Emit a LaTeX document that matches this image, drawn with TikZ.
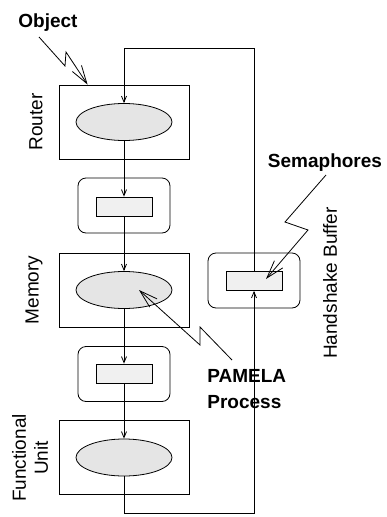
\documentclass[tikz,border=0pt]{standalone}
\usepackage{fontspec}
\setmainfont{Liberation Sans}
\usetikzlibrary{shapes.geometric,arrows.meta}
\begin{document}
\begin{tikzpicture}[x=1pt,y=-1pt,line width=0.8pt,
  font=\fontsize{19}{22}\selectfont,
  unitbox/.style={draw,minimum width=130pt,minimum height=74pt,inner sep=0pt},
  proc/.style={ellipse,draw,fill=black!10,minimum width=96pt,minimum height=37pt,inner sep=0pt},
  bufbox/.style={draw,rounded corners=8pt,minimum width=92pt,minimum height=55pt,inner sep=0pt},
  slot/.style={draw,fill=black!6,minimum width=56pt,minimum height=19pt,inner sep=0pt},
  flow/.style={-{Straight Barb[length=6pt,width=5pt]}},
  bolt/.style={-{Straight Barb[length=18pt,width=11pt]}},
  lbl/.style={inner sep=0pt},
  hdr/.style={inner sep=0pt,font=\fontsize{19}{26}\selectfont\bfseries}]
  \useasboundingbox (0,0) rectangle (386,517);
  % units with their processes
  \node[unitbox] (rt) at (124,122) {};
  \node[proc] (rtE) at (124,122) {};
  \node[unitbox] (mem) at (124,290) {};
  \node[proc] (memE) at (124,290) {};
  \node[unitbox] (fu) at (124,457) {};
  \node[proc] (fuE) at (124,457.5) {};
  % buffers
  \node[bufbox] (b1) at (124,205.5) {};
  \node[slot] (b1R) at (124,206.5) {};
  \node[bufbox] (b2) at (124,374) {};
  \node[slot] (b2R) at (124,373.5) {};
  \node[bufbox] (hs) at (254,280.5) {};
  \node[slot] (hsR) at (254,281) {};
  \coordinate (top) at (0,48);
  \coordinate (bot) at (0,513);
  % data flow
  \draw[flow] (rtE.south) -- (b1R.north);
  \draw[flow] (b1R.south) -- (memE.north);
  \draw[flow] (memE.south) -- (b2R.north);
  \draw[flow] (b2R.south) -- (fuE.north);
  \draw[flow] (fuE.south) -- (fuE.south |- bot) -- (hsR.south |- bot) -- (hsR.south);
  \draw[flow] (hsR.north) -- (hsR.north |- top) -- (rtE.north |- top) -- (rtE.north);
  % labels
  \node[lbl,rotate=90] at (36,122) {Router};
  \node[lbl,rotate=90] at (34,290) {Memory};
  \node[lbl,rotate=90,align=center] at (30,458) {Functional\\Unit};
  \node[lbl,rotate=90] at (330,283) {Handshake Buffer};
  \node[hdr,anchor=base] (obj) at (48,27) {Object};
  \node[hdr,anchor=base] (sema) at (325,167) {Semaphores};
  \node[hdr,align=left,anchor=north west] (pam) at (207,369) {PAMELA\\Process};
  \draw[bolt] ([shift={(-9,10)}]obj.base) -- ++(26,29) -- ++(1,-14) -- ([shift={(29,0)}]rt.north west);
  \draw[bolt] ([shift={(1,8)}]sema.base) -- ++(-41,47) -- ++(23,8) -- ([shift={(12,-2)}]hsR.center);
  \draw[bolt] ([shift={(25,-9)}]pam.north west) -- ++(-32,-33) -- ++(0,18) -- ([shift={(15,0)}]memE.center);
\end{tikzpicture}
\end{document}
